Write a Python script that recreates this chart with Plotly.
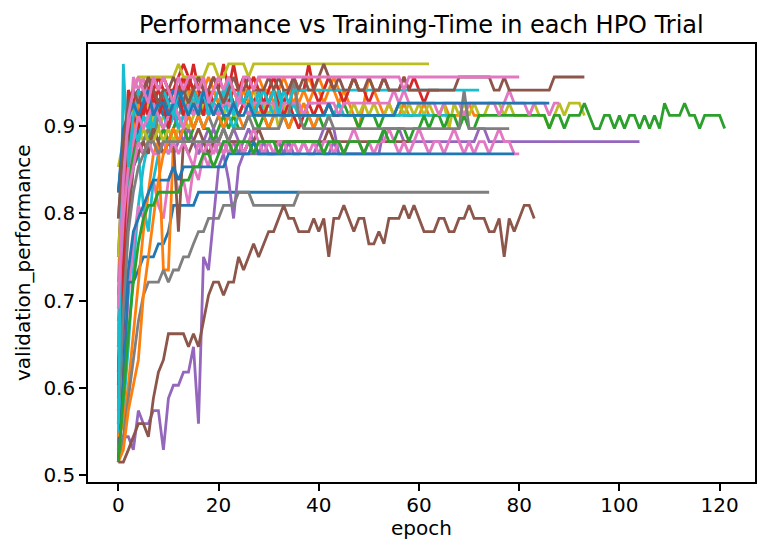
import plotly.graph_objects as go

# ---------------- data: validation performance per epoch for each HPO trial ----------------
blue_824 = [
    0.515, 0.603, 0.721, 0.721, 0.735, 0.750, 0.750, 0.750, 0.765, 0.765,
    0.779, 0.809, 0.809, 0.809, 0.809, 0.809, 0.824, 0.824, 0.824, 0.824,
    0.824, 0.824, 0.824, 0.824, 0.824, 0.824, 0.824, 0.824, 0.824, 0.824,
    0.824, 0.824, 0.824, 0.824, 0.824, 0.824, 0.824]

gray_824 = [
    0.515, 0.544, 0.588, 0.632, 0.676, 0.706, 0.721, 0.721, 0.721, 0.735,
    0.721, 0.735, 0.735, 0.750, 0.750, 0.765, 0.779, 0.779, 0.794, 0.794,
    0.794, 0.809, 0.809, 0.809, 0.824, 0.824, 0.824, 0.809, 0.809, 0.809,
    0.809, 0.809, 0.809, 0.809, 0.809, 0.809, 0.824, 0.824, 0.824, 0.824,
    0.824, 0.824, 0.824, 0.824, 0.824, 0.824, 0.824, 0.824, 0.824, 0.824,
    0.824, 0.824, 0.824, 0.824, 0.824, 0.824, 0.824, 0.824, 0.824, 0.824,
    0.824, 0.824, 0.824, 0.824, 0.824, 0.824, 0.824, 0.824, 0.824, 0.824,
    0.824, 0.824, 0.824, 0.824, 0.824]

brown_low = [
    0.515, 0.515, 0.529, 0.544, 0.559, 0.559, 0.544, 0.588, 0.618, 0.632,
    0.662, 0.662, 0.662, 0.662, 0.647, 0.662, 0.647, 0.676, 0.706, 0.721,
    0.721, 0.706, 0.721, 0.721, 0.750, 0.735, 0.750, 0.765, 0.750, 0.765,
    0.779, 0.779, 0.794, 0.809, 0.794, 0.794, 0.779, 0.779, 0.779, 0.794,
    0.779, 0.794, 0.750, 0.794, 0.794, 0.809, 0.794, 0.779, 0.794, 0.794,
    0.765, 0.765, 0.779, 0.765, 0.794, 0.794, 0.794, 0.809, 0.794, 0.809,
    0.794, 0.779, 0.779, 0.779, 0.794, 0.794, 0.779, 0.779, 0.794, 0.794,
    0.809, 0.794, 0.794, 0.794, 0.779, 0.779, 0.794, 0.750, 0.794, 0.779,
    0.794, 0.809, 0.809, 0.794]

purple_long = [
    0.529, 0.544, 0.544, 0.529, 0.574, 0.559, 0.559, 0.574, 0.574, 0.529,
    0.588, 0.603, 0.603, 0.618, 0.618, 0.647, 0.559, 0.750, 0.735, 0.794,
    0.853, 0.868, 0.838, 0.794, 0.853, 0.868, 0.868, 0.868, 0.868, 0.868,
    0.868, 0.868, 0.868, 0.868, 0.882, 0.882, 0.882, 0.882, 0.882, 0.882,
    0.882, 0.897, 0.897, 0.897, 0.868, 0.868, 0.868, 0.868, 0.868, 0.868,
    0.868, 0.868, 0.868, 0.897, 0.897, 0.897, 0.897, 0.882, 0.882, 0.882,
    0.882, 0.882, 0.882, 0.882, 0.882, 0.882, 0.882, 0.882, 0.882, 0.882,
    0.882, 0.882, 0.897, 0.897, 0.882, 0.882, 0.882, 0.882, 0.882, 0.882,
    0.882, 0.882, 0.882, 0.882, 0.882, 0.882, 0.882, 0.882, 0.882, 0.882,
    0.882, 0.882, 0.882, 0.882, 0.882, 0.882, 0.882, 0.882, 0.882, 0.882,
    0.882, 0.882, 0.882, 0.882, 0.882]

green_long = [
    0.515, 0.588, 0.662, 0.721, 0.765, 0.794, 0.809, 0.809, 0.824, 0.824,
    0.824, 0.824, 0.824, 0.838, 0.838, 0.853, 0.853, 0.868, 0.868, 0.853,
    0.868, 0.882, 0.882, 0.868, 0.882, 0.882, 0.882, 0.868, 0.882, 0.882,
    0.882, 0.882, 0.868, 0.882, 0.882, 0.882, 0.882, 0.882, 0.882, 0.882,
    0.882, 0.868, 0.882, 0.882, 0.882, 0.868, 0.882, 0.882, 0.882, 0.868,
    0.882, 0.882, 0.882, 0.897, 0.882, 0.882, 0.897, 0.897, 0.882, 0.897,
    0.897, 0.912, 0.897, 0.912, 0.912, 0.897, 0.912, 0.912, 0.897, 0.912,
    0.897, 0.897, 0.912, 0.912, 0.912, 0.912, 0.912, 0.912, 0.912, 0.912,
    0.912, 0.912, 0.912, 0.912, 0.912, 0.912, 0.897, 0.912, 0.912, 0.897,
    0.912, 0.912, 0.912, 0.926, 0.912, 0.897, 0.897, 0.912, 0.912, 0.897,
    0.912, 0.897, 0.912, 0.912, 0.897, 0.912, 0.897, 0.912, 0.897, 0.926,
    0.912, 0.912, 0.912, 0.926, 0.912, 0.912, 0.897, 0.912, 0.912, 0.912,
    0.912, 0.897]

brown_top = [
    0.794, 0.882, 0.926, 0.941, 0.926, 0.941, 0.956, 0.941, 0.926, 0.941,
    0.941, 0.956, 0.941, 0.941, 0.926, 0.941, 0.956, 0.941, 0.941, 0.956,
    0.941, 0.926, 0.941, 0.956, 0.941, 0.941, 0.956, 0.941, 0.941, 0.941,
    0.956, 0.941, 0.956, 0.941, 0.941, 0.956, 0.941, 0.956, 0.941, 0.941,
    0.956, 0.971, 0.956, 0.941, 0.956, 0.941, 0.941, 0.956, 0.941, 0.941,
    0.956, 0.941, 0.941, 0.956, 0.941, 0.941, 0.941, 0.956, 0.941, 0.941,
    0.941, 0.941, 0.941, 0.941, 0.941, 0.941, 0.941, 0.941, 0.956, 0.956,
    0.956, 0.956, 0.956, 0.956, 0.956, 0.941, 0.941, 0.956, 0.941, 0.941,
    0.941, 0.941, 0.941, 0.941, 0.941, 0.941, 0.941, 0.956, 0.956, 0.956,
    0.956, 0.956, 0.956, 0.956]

pink_top = [
    0.691, 0.838, 0.912, 0.941, 0.956, 0.941, 0.926, 0.956, 0.941, 0.956,
    0.941, 0.926, 0.956, 0.941, 0.956, 0.956, 0.941, 0.956, 0.926, 0.941,
    0.956, 0.941, 0.956, 0.941, 0.926, 0.956, 0.956, 0.941, 0.956, 0.956,
    0.956, 0.956, 0.956, 0.956, 0.956, 0.956, 0.956, 0.956, 0.956, 0.956,
    0.956, 0.956, 0.956, 0.956, 0.956, 0.956, 0.956, 0.956, 0.956, 0.956,
    0.956, 0.956, 0.956, 0.956, 0.956, 0.956, 0.956, 0.941, 0.956, 0.956,
    0.956, 0.956, 0.956, 0.956, 0.956, 0.956, 0.956, 0.956, 0.956, 0.956,
    0.956, 0.956, 0.956, 0.956, 0.956, 0.956, 0.956, 0.956, 0.956, 0.956,
    0.956]

olive_top = [
    0.853, 0.882, 0.912, 0.941, 0.956, 0.956, 0.956, 0.956, 0.956, 0.956,
    0.956, 0.956, 0.971, 0.956, 0.956, 0.956, 0.956, 0.956, 0.971, 0.971,
    0.956, 0.956, 0.971, 0.971, 0.971, 0.971, 0.956, 0.971, 0.971, 0.971,
    0.971, 0.971, 0.971, 0.971, 0.971, 0.971, 0.971, 0.971, 0.971, 0.971,
    0.971, 0.971, 0.971, 0.971, 0.971, 0.971, 0.971, 0.971, 0.971, 0.971,
    0.971, 0.971, 0.971, 0.971, 0.971, 0.971, 0.971, 0.971, 0.971, 0.971,
    0.971, 0.971, 0.971]

cyan_941 = [
    0.559, 0.971, 0.853, 0.912, 0.941, 0.926, 0.941, 0.912, 0.926, 0.941,
    0.926, 0.912, 0.941, 0.926, 0.912, 0.941, 0.926, 0.941, 0.912, 0.926,
    0.941, 0.926, 0.956, 0.912, 0.941, 0.926, 0.941, 0.912, 0.926, 0.941,
    0.926, 0.941, 0.912, 0.941, 0.926, 0.941, 0.941, 0.941, 0.941, 0.941,
    0.941, 0.941, 0.941, 0.941, 0.941, 0.941, 0.941, 0.941, 0.941, 0.941,
    0.941, 0.941, 0.941, 0.941, 0.941, 0.941, 0.941, 0.941, 0.941, 0.941,
    0.941, 0.941, 0.941, 0.941, 0.941, 0.941, 0.941, 0.941, 0.941, 0.941,
    0.941, 0.941, 0.941]

gray_897 = [
    0.574, 0.691, 0.779, 0.824, 0.853, 0.868, 0.882, 0.882, 0.868, 0.882,
    0.882, 0.882, 0.882, 0.882, 0.882, 0.882, 0.882, 0.882, 0.882, 0.882,
    0.882, 0.897, 0.882, 0.897, 0.897, 0.897, 0.912, 0.897, 0.897, 0.897,
    0.897, 0.897, 0.897, 0.912, 0.912, 0.956, 0.912, 0.897, 0.897, 0.897,
    0.897, 0.897, 0.912, 0.897, 0.897, 0.897, 0.897, 0.897, 0.897, 0.897,
    0.897, 0.897, 0.897, 0.897, 0.897, 0.897, 0.897, 0.897, 0.897, 0.897,
    0.897, 0.897, 0.897, 0.897, 0.897, 0.897, 0.897, 0.897, 0.897, 0.941,
    0.897, 0.897, 0.897, 0.897, 0.897, 0.897, 0.897, 0.897, 0.897]

blue_868 = [
    0.588, 0.676, 0.735, 0.779, 0.794, 0.809, 0.824, 0.838, 0.838, 0.838,
    0.838, 0.853, 0.838, 0.853, 0.853, 0.853, 0.853, 0.853, 0.853, 0.853,
    0.853, 0.853, 0.868, 0.868, 0.868, 0.868, 0.868, 0.882, 0.868, 0.868,
    0.868, 0.868, 0.868, 0.868, 0.868, 0.868, 0.868, 0.868, 0.868, 0.868,
    0.868, 0.868, 0.868, 0.868, 0.868, 0.868, 0.868, 0.868, 0.868, 0.868,
    0.868, 0.868, 0.868, 0.868, 0.868, 0.868, 0.868, 0.868, 0.868, 0.868,
    0.868, 0.868, 0.868, 0.868, 0.868, 0.868, 0.868, 0.868, 0.868, 0.868,
    0.868, 0.868, 0.868, 0.868, 0.868, 0.868, 0.868, 0.868, 0.868, 0.868]

blue_926 = [
    0.824, 0.897, 0.912, 0.926, 0.912, 0.926, 0.941, 0.912, 0.926, 0.926,
    0.912, 0.926, 0.941, 0.926, 0.912, 0.926, 0.912, 0.941, 0.926, 0.912,
    0.926, 0.912, 0.912, 0.926, 0.912, 0.912, 0.926, 0.912, 0.912, 0.912,
    0.912, 0.912, 0.912, 0.912, 0.912, 0.912, 0.912, 0.912, 0.912, 0.912,
    0.912, 0.912, 0.926, 0.912, 0.912, 0.912, 0.912, 0.912, 0.912, 0.912,
    0.912, 0.912, 0.912, 0.912, 0.912, 0.912, 0.926, 0.926, 0.926, 0.926,
    0.926, 0.926, 0.926, 0.926, 0.926, 0.926, 0.926, 0.926, 0.926, 0.926,
    0.926, 0.926, 0.926, 0.926, 0.926, 0.926, 0.926, 0.926, 0.926, 0.926,
    0.926, 0.926, 0.926, 0.926, 0.926, 0.926, 0.926]

olive_mid = [
    0.750, 0.853, 0.882, 0.897, 0.882, 0.897, 0.882, 0.882, 0.897, 0.882,
    0.897, 0.882, 0.897, 0.912, 0.897, 0.912, 0.926, 0.912, 0.926, 0.912,
    0.926, 0.912, 0.926, 0.912, 0.912, 0.926, 0.912, 0.926, 0.912, 0.926,
    0.912, 0.926, 0.897, 0.926, 0.912, 0.926, 0.912, 0.926, 0.912, 0.912,
    0.926, 0.912, 0.926, 0.912, 0.926, 0.912, 0.912, 0.926, 0.912, 0.926,
    0.912, 0.926, 0.912, 0.912, 0.926, 0.912, 0.926, 0.912, 0.926, 0.912,
    0.926, 0.912, 0.926, 0.912, 0.912, 0.926, 0.897, 0.926, 0.912, 0.926,
    0.912, 0.926, 0.912, 0.912, 0.926, 0.926, 0.926, 0.912, 0.926, 0.912,
    0.912, 0.912, 0.912, 0.926, 0.912, 0.912, 0.897, 0.912, 0.926, 0.912,
    0.926, 0.926, 0.926, 0.912]

pink_mid = [
    0.691, 0.794, 0.853, 0.882, 0.912, 0.897, 0.912, 0.926, 0.912, 0.897,
    0.912, 0.926, 0.912, 0.897, 0.926, 0.912, 0.926, 0.941, 0.912, 0.926,
    0.912, 0.926, 0.926, 0.912, 0.926, 0.926, 0.912, 0.926, 0.926, 0.926,
    0.926, 0.926, 0.912, 0.926, 0.926, 0.926, 0.926, 0.912, 0.926, 0.926,
    0.926, 0.926, 0.926, 0.926, 0.912, 0.926, 0.926, 0.926, 0.926, 0.926,
    0.926, 0.926, 0.926, 0.926, 0.926, 0.941, 0.926, 0.941, 0.926, 0.926,
    0.926, 0.926, 0.926, 0.926, 0.912, 0.926, 0.926, 0.926, 0.926, 0.912,
    0.926, 0.926, 0.926, 0.926, 0.926, 0.926, 0.912, 0.926, 0.941, 0.926,
    0.926, 0.926, 0.912, 0.926, 0.926, 0.926, 0.912, 0.926, 0.926]

pink_868 = [
    0.662, 0.765, 0.824, 0.853, 0.882, 0.868, 0.882, 0.868, 0.868, 0.882,
    0.868, 0.882, 0.868, 0.882, 0.868, 0.853, 0.882, 0.868, 0.882, 0.868,
    0.882, 0.868, 0.882, 0.868, 0.882, 0.868, 0.882, 0.897, 0.882, 0.868,
    0.882, 0.868, 0.882, 0.882, 0.868, 0.882, 0.868, 0.882, 0.868, 0.882,
    0.868, 0.882, 0.882, 0.868, 0.882, 0.868, 0.882, 0.897, 0.882, 0.868,
    0.882, 0.868, 0.882, 0.882, 0.897, 0.882, 0.868, 0.882, 0.868, 0.882,
    0.897, 0.882, 0.868, 0.882, 0.882, 0.868, 0.882, 0.897, 0.882, 0.868,
    0.882, 0.868, 0.882, 0.882, 0.868, 0.882, 0.897, 0.882, 0.882, 0.868,
    0.868]

red_a = [
    0.603, 0.853, 0.941, 0.926, 0.941, 0.912, 0.941, 0.926, 0.941, 0.956,
    0.941, 0.926, 0.941, 0.956, 0.941, 0.971, 0.941, 0.926, 0.941, 0.956,
    0.941, 0.971, 0.941, 0.971, 0.941, 0.926, 0.941, 0.956, 0.941, 0.926,
    0.941, 0.956, 0.941, 0.926, 0.941, 0.956, 0.941, 0.941, 0.971, 0.941,
    0.926, 0.941, 0.956, 0.941, 0.941, 0.926, 0.941, 0.956, 0.941, 0.941,
    0.926, 0.941, 0.941, 0.956, 0.941, 0.941, 0.941, 0.956, 0.941, 0.956,
    0.941, 0.926, 0.941, 0.941, 0.941]

red_b = [
    0.574, 0.750, 0.882, 0.912, 0.897, 0.926, 0.912, 0.941, 0.912, 0.926,
    0.897, 0.926, 0.941, 0.912, 0.926, 0.941, 0.926, 0.912, 0.941, 0.926,
    0.912, 0.926, 0.941, 0.926, 0.912, 0.926, 0.941, 0.912, 0.926, 0.912,
    0.926, 0.941, 0.926, 0.912, 0.926, 0.912, 0.897, 0.912, 0.926, 0.912,
    0.926, 0.912, 0.926, 0.912, 0.912]

orange_912 = [
    0.544, 0.559, 0.603, 0.662, 0.721, 0.779, 0.824, 0.868, 0.882, 0.735,
    0.735, 0.882, 0.897, 0.912, 0.926, 0.941, 0.926, 0.941, 0.956, 0.941,
    0.926, 0.941, 0.956, 0.941, 0.926, 0.941, 0.926, 0.941, 0.956, 0.941,
    0.941, 0.926, 0.941, 0.956, 0.941, 0.926, 0.941, 0.941, 0.926, 0.941,
    0.956, 0.941, 0.956, 0.941, 0.926, 0.941, 0.926, 0.912, 0.897, 0.926,
    0.956, 0.941, 0.926, 0.912, 0.926, 0.912, 0.912, 0.926, 0.912, 0.912,
    0.912, 0.926, 0.912, 0.912, 0.912, 0.926, 0.912, 0.912, 0.912, 0.912,
    0.926, 0.912, 0.912, 0.912]

orange_b = [
    0.515, 0.529, 0.574, 0.603, 0.632, 0.706, 0.750, 0.794, 0.838, 0.868,
    0.882, 0.897, 0.882, 0.897, 0.912, 0.897, 0.912, 0.897, 0.912, 0.926,
    0.912, 0.897, 0.912, 0.926, 0.912, 0.897, 0.912, 0.926, 0.912, 0.912,
    0.897, 0.912, 0.926, 0.912, 0.897, 0.912, 0.912, 0.926, 0.912, 0.897,
    0.912]

cyan_912 = [
    0.647, 0.779, 0.853, 0.897, 0.882, 0.912, 0.897, 0.926, 0.912, 0.897,
    0.912, 0.926, 0.897, 0.912, 0.926, 0.941, 0.912, 0.897, 0.912, 0.926,
    0.912, 0.941, 0.912, 0.897, 0.912, 0.926, 0.912, 0.912, 0.941, 0.912,
    0.926, 0.912, 0.941, 0.912, 0.912, 0.926, 0.912, 0.912, 0.912, 0.897,
    0.912, 0.912, 0.912, 0.912, 0.926, 0.912, 0.912, 0.912, 0.912, 0.912,
    0.912, 0.912, 0.912, 0.912, 0.912, 0.912, 0.912, 0.912, 0.912, 0.912,
    0.912, 0.912, 0.912, 0.912, 0.912, 0.912, 0.912, 0.912]

green_b = [
    0.662, 0.765, 0.838, 0.868, 0.882, 0.868, 0.882, 0.897, 0.882, 0.897,
    0.882, 0.897, 0.912, 0.897, 0.882, 0.897, 0.912, 0.897, 0.897, 0.882,
    0.897, 0.912, 0.897, 0.912, 0.897, 0.897, 0.912, 0.912, 0.897, 0.912,
    0.897, 0.912, 0.926, 0.912, 0.897, 0.912, 0.912, 0.897, 0.912, 0.912,
    0.912, 0.897, 0.912, 0.912, 0.912, 0.926, 0.912, 0.912, 0.897, 0.912,
    0.912, 0.912, 0.897, 0.912, 0.912, 0.912, 0.926, 0.912, 0.912, 0.912]

brown_b = [
    0.618, 0.721, 0.794, 0.853, 0.868, 0.882, 0.868, 0.897, 0.882, 0.868,
    0.882, 0.882, 0.779, 0.882, 0.868, 0.882, 0.897, 0.882, 0.868, 0.882,
    0.882, 0.897, 0.882, 0.882, 0.882, 0.868, 0.882, 0.882, 0.897, 0.882,
    0.882, 0.882, 0.882, 0.882, 0.882, 0.882, 0.882, 0.882, 0.882, 0.882,
    0.882, 0.882, 0.897, 0.882, 0.882, 0.882, 0.882, 0.882, 0.882, 0.882,
    0.882, 0.882, 0.882, 0.882, 0.882, 0.882, 0.882, 0.882, 0.882]

short_red_1 = [0.529, 0.721, 0.882, 0.926, 0.941, 0.926, 0.912, 0.941, 0.926, 0.941, 0.912, 0.926]
short_purple_1 = [0.706, 0.824, 0.868, 0.882, 0.868, 0.882, 0.897, 0.882, 0.868, 0.882,
                  0.897, 0.912, 0.897, 0.882, 0.897, 0.882, 0.868, 0.882, 0.897, 0.882,
                  0.868, 0.882, 0.882, 0.897, 0.882, 0.868, 0.882, 0.882]
short_cyan_1 = [0.529, 0.574, 0.647, 0.735, 0.809, 0.853, 0.882, 0.912, 0.926, 0.912,
                0.941, 0.926, 0.941, 0.912, 0.926, 0.941, 0.926, 0.912, 0.941, 0.926]
short_gray_1 = [0.794, 0.868, 0.897, 0.882, 0.912, 0.897, 0.882, 0.897, 0.912, 0.897,
                0.882, 0.897, 0.882, 0.897, 0.897]
short_pink_1 = [0.529, 0.603, 0.706, 0.765, 0.809, 0.794, 0.824, 0.838, 0.809, 0.794,
                0.838, 0.853, 0.824, 0.838, 0.809, 0.853, 0.838, 0.868, 0.853, 0.882,
                0.868, 0.882, 0.868, 0.882, 0.882, 0.868, 0.882, 0.868, 0.882, 0.882]
short_olive_1 = [0.544, 0.750, 0.853, 0.882, 0.897, 0.882, 0.897, 0.912, 0.897, 0.912]
short_blue_1 = [0.559, 0.691, 0.809, 0.868, 0.897, 0.912, 0.897, 0.926, 0.912, 0.941,
                0.926, 0.912, 0.926, 0.941, 0.926, 0.912, 0.941, 0.926, 0.941, 0.926,
                0.912, 0.926, 0.941, 0.926, 0.926]
short_orange_1 = [0.721, 0.868, 0.926, 0.941, 0.956, 0.941, 0.926, 0.956, 0.941, 0.956,
                  0.941, 0.926, 0.941, 0.956, 0.941, 0.941, 0.956, 0.941]
short_green_1 = [0.588, 0.735, 0.838, 0.868, 0.882, 0.868, 0.882, 0.882]
short_red_2 = [0.618, 0.824, 0.912, 0.941, 0.926, 0.912, 0.941, 0.956, 0.941, 0.926,
               0.941, 0.941, 0.926, 0.956, 0.941, 0.926, 0.941, 0.912, 0.926, 0.941,
               0.956, 0.941, 0.926, 0.941, 0.941, 0.956, 0.941, 0.926, 0.941, 0.941,
               0.926, 0.941]
short_brown_1 = [0.750, 0.868, 0.912, 0.926, 0.941, 0.926, 0.956, 0.941, 0.926, 0.941,
                 0.912, 0.926, 0.941, 0.926, 0.956, 0.941, 0.926, 0.912, 0.926, 0.941,
                 0.926, 0.941]
short_cyan_2 = [0.676, 0.809, 0.868, 0.897, 0.882, 0.897, 0.912, 0.897, 0.926, 0.912,
                0.897, 0.912, 0.926, 0.912, 0.941, 0.926, 0.912, 0.926, 0.941, 0.912,
                0.926, 0.912, 0.941, 0.926, 0.912, 0.926, 0.941, 0.926, 0.912, 0.926,
                0.912, 0.926, 0.941, 0.926, 0.912, 0.926, 0.926, 0.912, 0.926, 0.926]
short_pink_2 = [0.603, 0.809, 0.882, 0.956, 0.941, 0.956, 0.926, 0.941, 0.956, 0.941,
                0.926, 0.941, 0.956, 0.941]
short_gray_2 = [0.647, 0.794, 0.853, 0.882, 0.868, 0.882, 0.897, 0.882, 0.912, 0.897,
                0.882, 0.897, 0.912, 0.926, 0.912, 0.897, 0.912, 0.926, 0.912, 0.897,
                0.912, 0.897, 0.912, 0.926, 0.912, 0.912]
short_olive_2 = [0.824, 0.882, 0.926, 0.912, 0.897, 0.912, 0.926, 0.941, 0.926, 0.912,
                 0.926, 0.941, 0.926, 0.912, 0.941, 0.926, 0.912, 0.926, 0.941, 0.926,
                 0.912, 0.926, 0.941, 0.926, 0.912, 0.926, 0.926, 0.941, 0.926, 0.912,
                 0.926, 0.941, 0.926, 0.926, 0.912]
short_purple_2 = [0.691, 0.838, 0.882, 0.897, 0.882, 0.868, 0.882, 0.897, 0.882, 0.868,
                  0.882, 0.868, 0.882, 0.897, 0.882, 0.882, 0.868, 0.882, 0.882, 0.897,
                  0.882, 0.868, 0.882, 0.882, 0.868, 0.882, 0.897, 0.882, 0.868, 0.882,
                  0.868, 0.868, 0.882, 0.868, 0.882, 0.868, 0.868, 0.882, 0.868, 0.868,
                  0.882, 0.868, 0.868, 0.882, 0.868]
short_red_3 = [0.515, 0.662, 0.809, 0.882, 0.926, 0.941, 0.956, 0.941, 0.956, 0.941,
               0.926, 0.941, 0.956, 0.971, 0.956, 0.941, 0.956, 0.941, 0.926, 0.941]
short_blue_2 = [0.824, 0.882, 0.912, 0.926, 0.941, 0.926, 0.912, 0.941, 0.926, 0.912,
                0.926, 0.941, 0.926, 0.912, 0.926, 0.926]
short_orange_2 = [0.647, 0.794, 0.853, 0.897, 0.926, 0.912, 0.941, 0.926, 0.941, 0.956,
                  0.941, 0.926, 0.941, 0.956, 0.941, 0.926, 0.941, 0.956, 0.926, 0.941,
                  0.926, 0.941, 0.956, 0.941, 0.926, 0.941, 0.941, 0.956, 0.941, 0.926,
                  0.941, 0.956, 0.941, 0.926, 0.941, 0.941, 0.926, 0.941, 0.956, 0.941,
                  0.941, 0.926, 0.941, 0.956, 0.941, 0.926, 0.941, 0.956, 0.941, 0.941]
short_cyan_3 = [0.544, 0.691, 0.794, 0.853, 0.868, 0.809, 0.779, 0.838, 0.868, 0.882,
                0.868, 0.882]

x_tick_values = [0, 20, 40, 60, 80, 100, 120]
y_tick_values = [0.5, 0.6, 0.7, 0.8, 0.9]
y_tick_labels = ["0.5", "0.6", "0.7", "0.8", "0.9"]

TAB10 = {
    "blue": "#1f77b4", "orange": "#ff7f0e", "green": "#2ca02c", "red": "#d62728",
    "purple": "#9467bd", "brown": "#8c564b", "pink": "#e377c2", "gray": "#7f7f7f",
    "olive": "#bcbd22", "cyan": "#17becf",
}

trials = [
    (short_red_1, "red"), (short_purple_1, "purple"), (short_cyan_1, "cyan"),
    (short_gray_1, "gray"), (short_pink_1, "pink"), (short_olive_1, "olive"),
    (short_blue_1, "blue"), (short_orange_1, "orange"), (short_green_1, "green"),
    (short_red_2, "red"), (short_brown_1, "brown"), (short_cyan_2, "cyan"),
    (short_pink_2, "pink"), (short_gray_2, "gray"), (short_olive_2, "olive"),
    (short_purple_2, "purple"), (short_red_3, "red"), (short_blue_2, "blue"),
    (short_orange_2, "orange"), (short_cyan_3, "cyan"),
    (blue_824, "blue"), (orange_912, "orange"), (green_b, "green"), (red_a, "red"),
    (purple_long, "purple"), (brown_b, "brown"), (pink_868, "pink"), (gray_824, "gray"),
    (olive_mid, "olive"), (cyan_912, "cyan"), (blue_868, "blue"), (orange_b, "orange"),
    (green_long, "green"), (red_b, "red"), (brown_low, "brown"), (pink_mid, "pink"),
    (gray_897, "gray"), (olive_top, "olive"), (cyan_941, "cyan"), (blue_926, "blue"),
    (brown_top, "brown"), (pink_top, "pink"),
]

fig = go.Figure()
for vals, cname in trials:
    fig.add_trace(go.Scatter(
        x=list(range(len(vals))), y=vals, mode="lines",
        line=dict(color=TAB10[cname], width=2.8),
        showlegend=False, hoverinfo="skip",
    ))

FONT = "DejaVu Sans"
# the page body has an 8px default margin, so the figure is 8px smaller
# and the margins put the axes box at x 88..755, y 44..482 in the window
fig.update_layout(
    width=764, height=546,
    margin=dict(l=80, r=17, t=36, b=72, autoexpand=False),
    plot_bgcolor="white", paper_bgcolor="white",
    font=dict(family=FONT, size=20, color="black"),
    annotations=[
        dict(text="Performance vs Training-Time in each HPO Trial",
             x=0.5, xref="paper", xanchor="center",
             y=1, yref="paper", yanchor="bottom", yshift=3,
             showarrow=False, font=dict(family=FONT, size=24, color="black")),
        dict(text="epoch", x=0.5, xref="paper", xanchor="center",
             y=0, yref="paper", yanchor="top", yshift=-32,
             showarrow=False, font=dict(family=FONT, size=20, color="black")),
        dict(text="validation_performance", textangle=-90,
             x=0, xref="paper", xanchor="right", xshift=-51,
             y=0.5, yref="paper", yanchor="middle",
             showarrow=False, font=dict(family=FONT, size=20, color="black")),
    ],
)

axis_common = dict(
    showline=True, linecolor="black", linewidth=1.6, mirror=True,
    ticks="outside", ticklen=7, tickwidth=1.6, tickcolor="black",
    showgrid=False, zeroline=False, automargin=False,
    tickfont=dict(family=FONT, size=20, color="black"),
)
fig.update_xaxes(range=[-6.05, 127.05], tickvals=x_tick_values,
                 ticklabelstandoff=-3, **axis_common)
fig.update_yaxes(range=[0.4922, 0.9938], tickvals=y_tick_values, ticktext=y_tick_labels,
                 **axis_common)

fig.write_html("out.html")
